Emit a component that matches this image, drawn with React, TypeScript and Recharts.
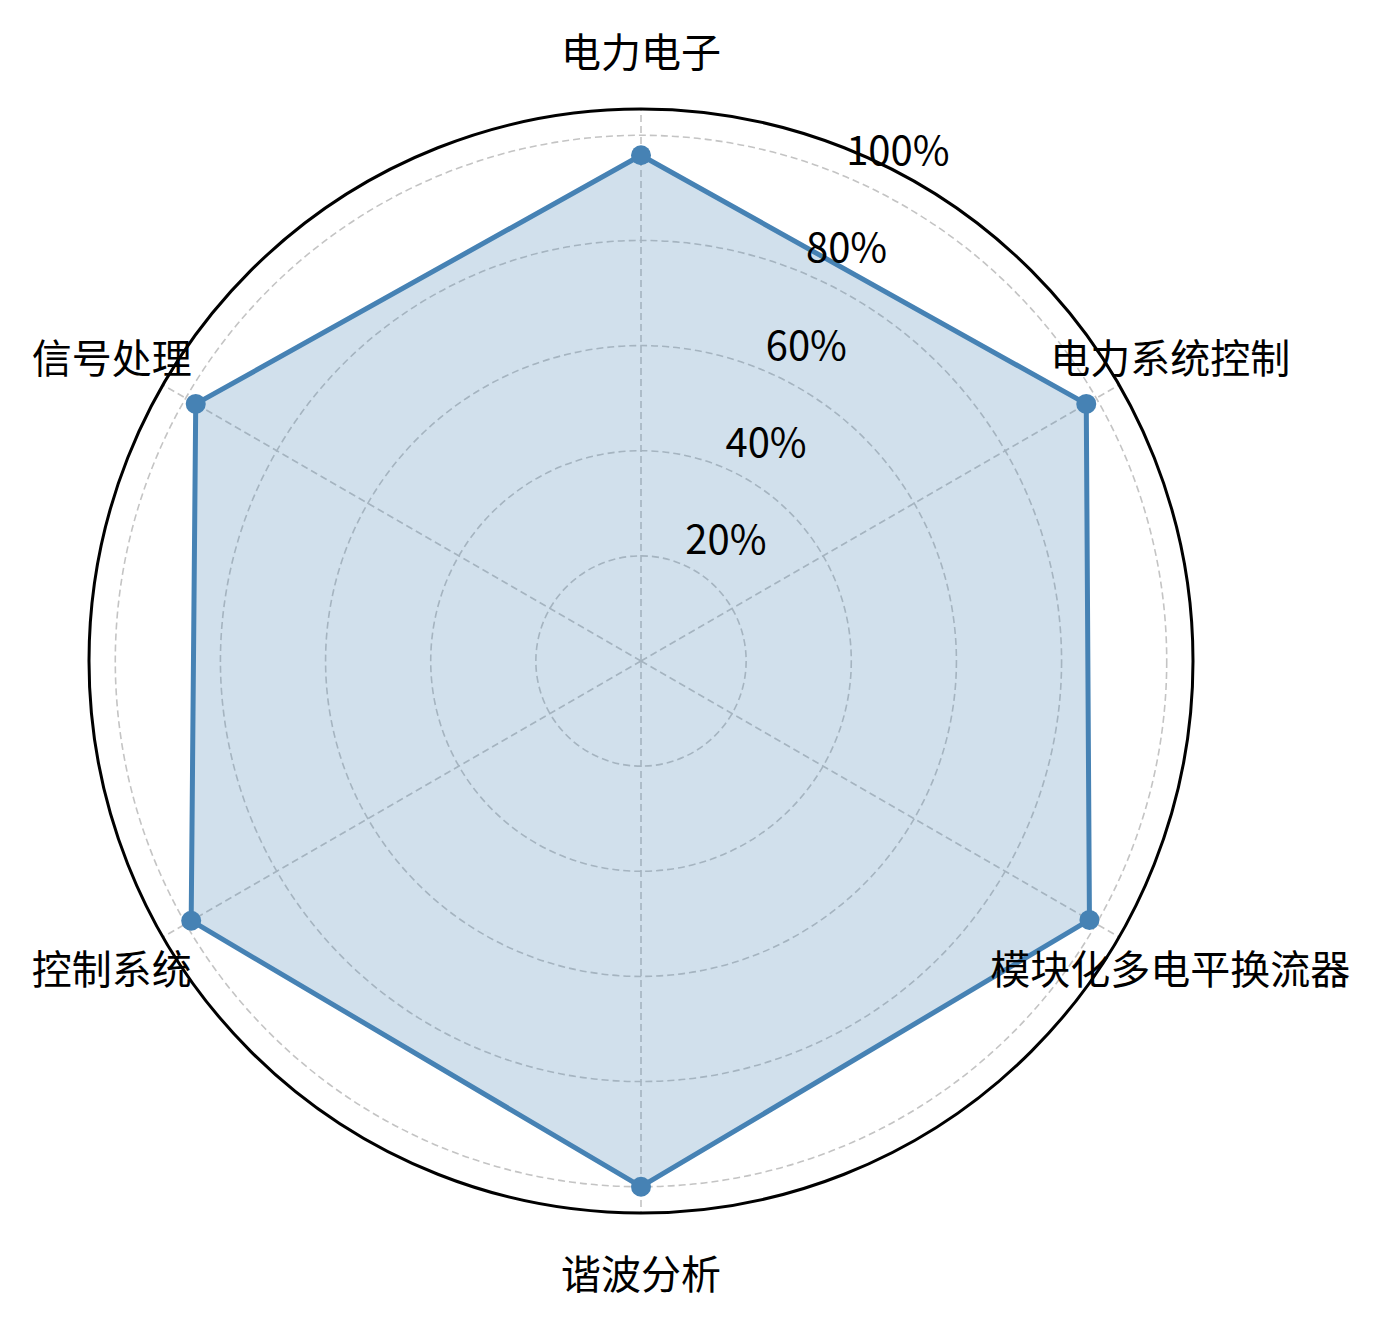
import React from 'react';
import { RadarChart, Radar, PolarGrid, PolarAngleAxis, PolarRadiusAxis } from 'recharts';

const subjects = ['电力电子', '电力系统控制', '模块化多电平换流器', '谐波分析', '控制系统', '信号处理'];
const scores = [0.962, 0.978, 0.985, 1.0, 0.988, 0.978];
const radiusTicks = [0.2, 0.4, 0.6, 0.8, 1.0];
const radiusDomain = [0, 1.05];

const data = subjects.map((s, i) => ({ subject: s, value: scores[i] }));

const W = 1387;
const H = 1324;
const CX = 641;
const CY = 661;
const OUTER = 552;
const LABEL_R = 611;
const FONT = '"Noto Sans CJK SC", "Noto Sans", sans-serif';
const BLUE = '#4682b4';

const AngleTick = (props: any) => {
  const cx = props.cx ?? CX;
  const cy = props.cy ?? CY;
  const dx = props.x - cx;
  const dy = props.y - cy;
  const len = Math.sqrt(dx * dx + dy * dy) || 1;
  const x = cx + (dx / len) * LABEL_R;
  const y = cy + (dy / len) * LABEL_R;
  return (
    <text
      x={x}
      y={y}
      textAnchor="middle"
      dominantBaseline="central"
      fontFamily={FONT}
      fontSize={40}
      fill="#000"
    >
      {props.payload.value}
    </text>
  );
};

const RadiusTick = (props: any) => {
  return (
    <text
      x={props.x + 4}
      y={props.y - 10}
      textAnchor="start"
      fontFamily={FONT}
      fontSize={40}
      fill="#000"
    >
      {`${Math.round(props.payload.value * 100)}%`}
    </text>
  );
};

const RadarShape = (props: any) => {
  const pts: { x: number; y: number }[] = props.points || [];
  if (!pts.length) return null;
  const str = pts.map((p) => `${p.x},${p.y}`).join(' ');
  return (
    <g>
      <polygon points={str} fill={BLUE} fillOpacity={0.25} stroke="none" />
      <polygon points={str} fill="none" stroke={BLUE} strokeWidth={5} strokeLinejoin="round" />
      {pts.map((p, i) => (
        <circle key={i} cx={p.x} cy={p.y} r={10} fill={BLUE} />
      ))}
    </g>
  );
};

export default function App() {
  return (
    <div style={{ position: 'absolute', left: 0, top: 0, width: W, height: H, background: '#fff' }}>
      <RadarChart
        width={W}
        height={H}
        cx={CX}
        cy={CY}
        outerRadius={OUTER}
        innerRadius={0}
        startAngle={90}
        endAngle={-270}
        data={data}
        margin={{ top: 0, right: 0, bottom: 0, left: 0 }}
      >
        <PolarGrid gridType="circle" stroke="#c4c4c4" strokeWidth={1.6} strokeDasharray="7 4" />
        <PolarGrid gridType="circle" radialLines={false} polarRadius={[OUTER]} stroke="#000" strokeWidth={3} />
        <PolarAngleAxis dataKey="subject" tick={AngleTick} axisLine={false} tickLine={false} />
        <Radar
          dataKey="value"
          stroke={BLUE}
          fill={BLUE}
          shape={RadarShape}
          isAnimationActive={false}
        />
        <PolarRadiusAxis
          angle={67.5}
          domain={radiusDomain}
          ticks={radiusTicks}
          axisLine={false}
          tickLine={false}
          tick={RadiusTick}
        />
      </RadarChart>
    </div>
  );
}
